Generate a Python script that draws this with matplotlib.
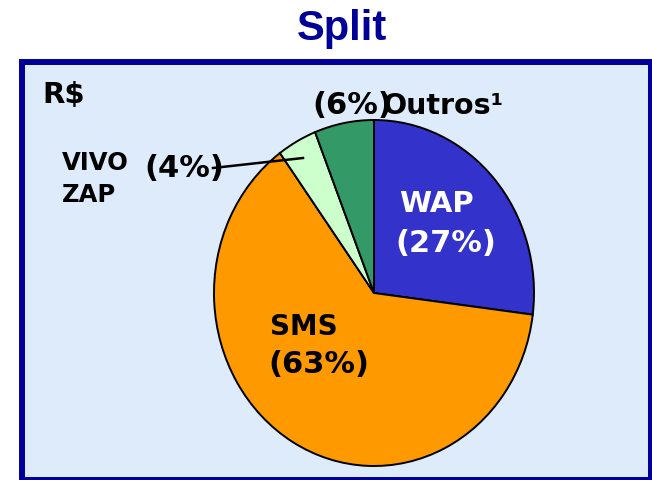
import matplotlib
matplotlib.use("Agg")
import matplotlib.pyplot as plt
from matplotlib.patches import Rectangle

# data
names = ["WAP", "SMS", "VIVO\nZAP", "Outros¹"]
shares = [27, 63, 4, 6]
colors = ["#3333CC", "#FF9900", "#CCFFCC", "#339966"]

W, H = 652, 480
fig = plt.figure(figsize=(W / 100, H / 100), dpi=100)
fig.patch.set_facecolor("white")

# background axes in pixel coords
bg = fig.add_axes([0, 0, 1, 1])
bg.set_xlim(0, W)
bg.set_ylim(H, 0)
bg.axis("off")
bg.add_patch(Rectangle((21.5, 62), 629.5, 418, facecolor="#DDEBFB",
                       edgecolor="#000099", linewidth=4.3))

# pie (slightly elliptical, as in the original)
cx, cy, rx, ry = 374, 293, 160, 173
pie_ax = fig.add_axes([(cx - rx) / W, (H - cy - ry) / H, 2 * rx / W, 2 * ry / H])
pie_ax.pie(shares, colors=colors, startangle=90, counterclock=False,
           wedgeprops=dict(edgecolor="black", linewidth=1.4))
pie_ax.set_aspect("auto")
pie_ax.set_xlim(-1, 1)
pie_ax.set_ylim(-1, 1)
pie_ax.axis("off")

# overlay for text
top = fig.add_axes([0, 0, 1, 1])
top.set_xlim(0, W)
top.set_ylim(H, 0)
top.axis("off")
top.patch.set_alpha(0)

fig.text(342 / W, 1 - 40 / H, "Split", ha="center", va="baseline",
         fontsize=30, fontweight="bold", color="#000099",
         family="Liberation Sans")

kw = dict(fontweight="bold", va="baseline", ha="left")
top.text(42, 103, "R$", fontsize=21, color="black", **kw)

# WAP
top.text(399, 212, names[0], fontsize=21, color="white", **kw)
top.text(395, 252, f"({shares[0]}%)", fontsize=22, color="white", **kw)
# SMS
top.text(270, 335, names[1], fontsize=20, color="black", **kw)
top.text(268, 373, f"({shares[1]}%)", fontsize=22, color="black", **kw)
# VIVO ZAP
for i, line in enumerate(names[2].split("\n")):
    top.text(62, 170 + i * 32, line, fontsize=17.5, color="black", **kw)
top.text(144, 177, f"({shares[2]}%)", fontsize=22, color="black", **kw)
top.plot([213, 303], [168, 158], color="black", linewidth=1.8)
# Outros
top.text(312, 114, f"({shares[3]}%)", fontsize=22, color="black", **kw)
top.text(383, 114, names[3], fontsize=20.5, color="black", **kw)

fig.savefig("out.png", dpi=100)
